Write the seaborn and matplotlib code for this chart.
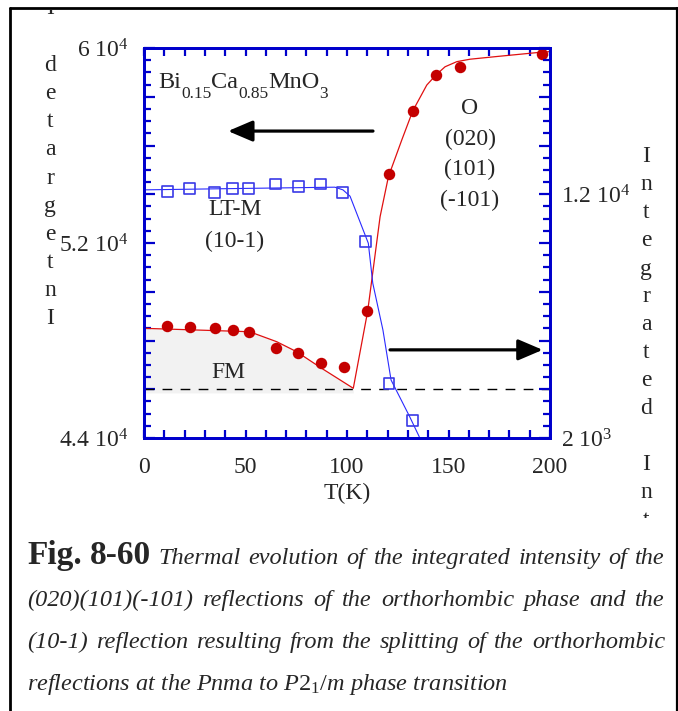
import matplotlib
matplotlib.use("Agg")
import matplotlib.pyplot as plt
import seaborn as sns
from matplotlib.ticker import MultipleLocator, FuncFormatter
from matplotlib.lines import Line2D
from matplotlib.transforms import Bbox, IdentityTransform

# Orthorhombic (020)(101)(-101) integrated intensity -- left axis
t_ortho = [11.5, 22.7, 34.8, 44.0, 51.9, 65.0, 76.0, 87.2, 98.6,
           109.7, 120.8, 132.4, 143.8, 155.7, 195.9]
i_ortho = [48610, 48540, 48500, 48430, 48350, 47680, 47500, 47080, 46930,
           49210, 54830, 57420, 58890, 59210, 59740]
# guide curve through the orthorhombic points
t_ortho_fit = [0, 52, 65.4, 75.2, 87.5, 103.1, 110.2, 116.3, 120.4, 127.0,
               132.4, 139.3, 143.8, 148.3, 154.1, 160.6, 173.7, 195.9, 200]
i_ortho_fit = [48500, 48360, 47950, 47540, 46860, 46040, 49210, 53080, 54720,
               56230, 57420, 58480, 58890, 59230, 59440, 59540, 59650, 59830, 59850]

# LT-M (10-1) integrated intensity -- right axis
t_ltm = [11.5, 22.3, 34.5, 43.5, 51.4, 65.0, 75.9, 86.8, 98.0, 109.1, 120.7, 132.4]
i_ltm = [12130, 12250, 12080, 12220, 12220, 12420, 12310, 12420, 12080, 10070, 4240, 2710]
t_ltm_fit = [0, 50, 94, 98, 101.5, 110.5, 112.7, 117.7, 121.7, 130.9, 135.6]
i_ltm_fit = [12180, 12240, 12290, 12180, 11920, 9990, 8350, 6430, 4380, 2870, 2050]

fm_level = 46000
fm_floor = 45850

x_ticks = [0, 50, 100, 150, 200]
left_labels = {44000: "4.4 10$^4$", 52000: "5.2 10$^4$", 60000: "6 10$^4$"}
right_labels = {2000: "2 10$^3$", 12000: "1.2 10$^4$"}

sns.set_style("white")
plt.rcParams["font.family"] = ["Liberation Serif", "DejaVu Serif"]
plt.rcParams["mathtext.fontset"] = "custom"
plt.rcParams["mathtext.rm"] = "Liberation Serif"
plt.rcParams["mathtext.it"] = "Liberation Serif:italic"
plt.rcParams["mathtext.bf"] = "Liberation Serif:bold"

W, H = 678, 711
fig = plt.figure(figsize=(W / 100, H / 100), dpi=100)
ax = fig.add_axes([144 / W, 1 - 438 / H, 406 / W, 390 / H])
ax2 = ax.twinx()

SPINE = "#0000cc"
RED = "#c40000"
RED_LINE = "#e01010"
BLUE = "#3a3ae6"
BLUE_LINE = "#2a2aff"

# FM shaded region under the low-temperature branch
cusp = i_ortho_fit.index(min(i_ortho_fit))
ax.fill_between(t_ortho_fit[:cusp + 1], i_ortho_fit[:cusp + 1], fm_floor,
                color="#f2f2f2", lw=0, zorder=0)
ax.axhline(fm_level, color="k", lw=1.0, ls=(0, (7, 6)), zorder=1)

sns.lineplot(x=t_ortho_fit, y=i_ortho_fit, ax=ax, color=RED_LINE, lw=0.9,
             estimator=None, sort=False, zorder=2)
sns.scatterplot(x=t_ortho, y=i_ortho, ax=ax, color=RED, s=68, edgecolor=RED,
                linewidth=0, zorder=3)

sns.lineplot(x=t_ltm_fit, y=i_ltm_fit, ax=ax2, color=BLUE_LINE, lw=0.8,
             estimator=None, sort=False, zorder=2)
sns.scatterplot(x=t_ltm, y=i_ltm, ax=ax2, marker="s", s=62, facecolor="none",
                edgecolor=BLUE, linewidth=1.2, zorder=3)

ax.set_xlim(0, 200)
ax.set_ylim(44000, 60000)
ax2.set_ylim(2000, 18000)
ax.set_ylabel("")
ax2.set_ylabel("")
ax.set_xlabel("T(K)", fontsize=17, labelpad=3)

ax.xaxis.set_major_locator(MultipleLocator(50))
ax.xaxis.set_minor_locator(MultipleLocator(10))
ax.yaxis.set_major_locator(MultipleLocator(2000))
ax.yaxis.set_minor_locator(MultipleLocator(500))
ax2.yaxis.set_major_locator(MultipleLocator(2000))
ax2.yaxis.set_minor_locator(MultipleLocator(500))

ax.xaxis.set_major_formatter(FuncFormatter(lambda v, p: f"{v:g}" if v in x_ticks else ""))
ax.yaxis.set_major_formatter(FuncFormatter(lambda v, p: left_labels.get(int(round(v)), "")))
ax2.yaxis.set_major_formatter(FuncFormatter(lambda v, p: right_labels.get(int(round(v)), "")))

for a in (ax, ax2):
    for s in a.spines.values():
        s.set_color(SPINE)
        s.set_linewidth(2.0)
        s.set_visible(True)

ax.tick_params(axis="x", which="both", direction="in", top=True, bottom=True,
               color=SPINE, width=1.6, labelsize=17, pad=14)
ax.tick_params(axis="x", which="major", length=5.5)
ax.tick_params(axis="x", which="minor", length=5.5)
ax.tick_params(axis="y", which="both", direction="in", left=True, right=False,
               color=SPINE, width=1.6, labelsize=17, pad=11)
ax.tick_params(axis="y", which="major", length=8)
ax.tick_params(axis="y", which="minor", length=5)
ax2.tick_params(axis="y", which="both", direction="in", right=True, left=False,
                color=SPINE, width=1.6, labelsize=17, pad=8)
ax2.tick_params(axis="y", which="major", length=8)
ax2.tick_params(axis="y", which="minor", length=5)

renderer = fig.canvas.get_renderer()


def run_of_text(pieces, x0, y_base):
    """Lay out (text, size, baseline shift) pieces side by side in pixels."""
    x = x0
    for s, size, drop in pieces:
        t = fig.text(x, H - (y_base + drop), s, transform=IdentityTransform(),
                     fontsize=size, ha="left", va="baseline")
        x += t.get_window_extent(renderer).width


# compound formula with dropped subscripts
run_of_text([("Bi", 17.5, 0), ("0.15", 12.5, 10), ("Ca", 17.5, 0),
             ("0.85", 12.5, 10), ("MnO", 17.5, 0), ("3", 12.5, 10)], 158, 88)

ax.text(0.224, 0.587, "LT-M", transform=ax.transAxes, fontsize=17, ha="center", va="center")
ax.text(0.224, 0.503, "(10-1)", transform=ax.transAxes, fontsize=17, ha="center", va="center")
for yy, s in zip([0.846, 0.766, 0.689, 0.610], ["O", "(020)", "(101)", "(-101)"]):
    ax.text(0.803, yy, s, transform=ax.transAxes, fontsize=17, ha="center", va="center")
ax.text(0.207, 0.167, "FM", transform=ax.transAxes, fontsize=17, ha="center", va="center")

arrow = dict(arrowstyle="-|>,head_length=0.75,head_width=0.32", color="k",
             lw=2.3, mutation_scale=20, shrinkA=0, shrinkB=0)
ax.annotate("", xy=(0.207, 0.787), xytext=(0.564, 0.787),
            xycoords="axes fraction", textcoords="axes fraction", arrowprops=arrow)
ax.annotate("", xy=(0.982, 0.226), xytext=(0.606, 0.226),
            xycoords="axes fraction", textcoords="axes fraction", arrowprops=arrow)

# outer frame
fig.add_artist(Line2D([10 / W, 10 / W], [0, 1 - 8 / H], transform=fig.transFigure, color="k", lw=2.0))
fig.add_artist(Line2D([10 / W, 677 / W], [1 - 8 / H, 1 - 8 / H], transform=fig.transFigure, color="k", lw=2.0))
fig.add_artist(Line2D([677 / W, 677 / W], [0, 1 - 8 / H], transform=fig.transFigure, color="k", lw=1.6))

# stacked axis captions, clipped to the chart panel
label_word = "Integrated Intensity"
clip_top, clip_bottom = 10, 518
clip = Bbox.from_extents(0, H - clip_bottom, W, H - clip_top)
for i, ch in enumerate(label_word):
    if ch == " ":
        continue
    for xc, yb in ((50, 324.5 - i * 28.2), (646, 162.5 + i * 28.0)):
        # only letters that at least partly fall inside the panel
        if yb - 16 > clip_bottom or yb < clip_top:
            continue
        t = fig.text(xc, H - yb, ch, transform=IdentityTransform(),
                     fontsize=17, ha="center", va="baseline")
        t.set_clip_box(clip)
        t.set_clip_on(True)

# figure caption
bold = dict(fontsize=24, fontweight="bold")
ital = dict(fontsize=17.5, fontstyle="italic")


def justified(tokens, x0, x1, y):
    arts = [fig.text(x0, H - y, w, transform=IdentityTransform(), ha="left",
                     va="baseline", **kw) for w, kw in tokens]
    widths = [a.get_window_extent(renderer).width for a in arts]
    gap = (x1 - x0 - sum(widths)) / (len(arts) - 1)
    x = x0
    for a, w in zip(arts, widths):
        a.set_x(x)
        x += w + gap


line1 = [("Fig.", bold), ("8-60", bold)] + \
    [(w, ital) for w in "Thermal evolution of the integrated intensity of the".split()]
line2 = [(w, ital) for w in "(020)(101)(-101) reflections of the orthorhombic phase and the".split()]
line3 = [(w, ital) for w in "(10-1) reflection resulting from the splitting of the orthorhombic".split()]
justified(line1, 27, 665, 564)
justified(line2, 27, 665, 606)
justified(line3, 27, 665, 648)
fig.text(27, H - 690, r"reflections at the Pnma to $\mathit{P2_1/m}$ phase transition",
         transform=IdentityTransform(), ha="left", va="baseline", **ital)

fig.savefig("out.png", dpi=100)
